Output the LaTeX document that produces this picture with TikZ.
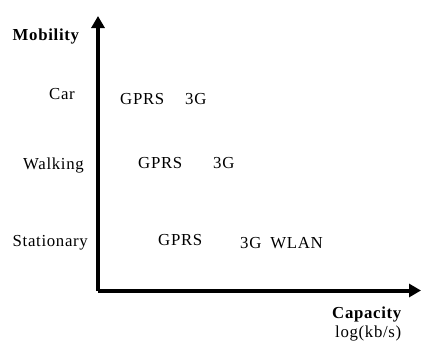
\documentclass[tikz,border=0pt]{standalone}
\usepackage{fontspec}
\setmainfont{Liberation Serif}[LetterSpace=4]
\usetikzlibrary{arrows.meta}
\begin{document}
\begin{tikzpicture}[x=1pt,y=-1pt,
  lbl/.style={anchor=base west,inner sep=0pt,font=\fontsize{16.8}{19}\selectfont},
  blbl/.style={anchor=base west,inner sep=0pt,font=\fontsize{16.8}{19}\selectfont\bfseries},
  axis/.style={line width=4pt,line join=round,-{Triangle[width=13pt,length=12pt]}}]
\useasboundingbox (0,0) rectangle (421,343);
\coordinate (top) at (98,16);
\coordinate (orig) at (98,290.5);
\coordinate (right) at (421,290.5);
\draw[axis] (orig) -- (top);
\draw[axis] (orig) -- (right);
\node[blbl] (mob) at (12.5,40) {Mobility};
\node[lbl] (car) at (49,99) {Car};
\node[lbl] (walk) at (23,169) {Walking};
\node[lbl] (stat) at (12.5,246) {Stationary};
\node[lbl] (g1) at (120,104) {GPRS};
\node[lbl] (t1) at (185,104) {3G};
\node[lbl] (g2) at (138,168) {GPRS};
\node[lbl] (t2) at (213,168) {3G};
\node[lbl] (g3) at (158,245) {GPRS};
\node[lbl] (t3) at (240,248) {3G\hspace{9pt}WLAN};
\node[blbl] (cap) at (332,318) {Capacity};
\node[lbl] (log) at (335,337) {log(kb/s)};
\end{tikzpicture}
\end{document}
